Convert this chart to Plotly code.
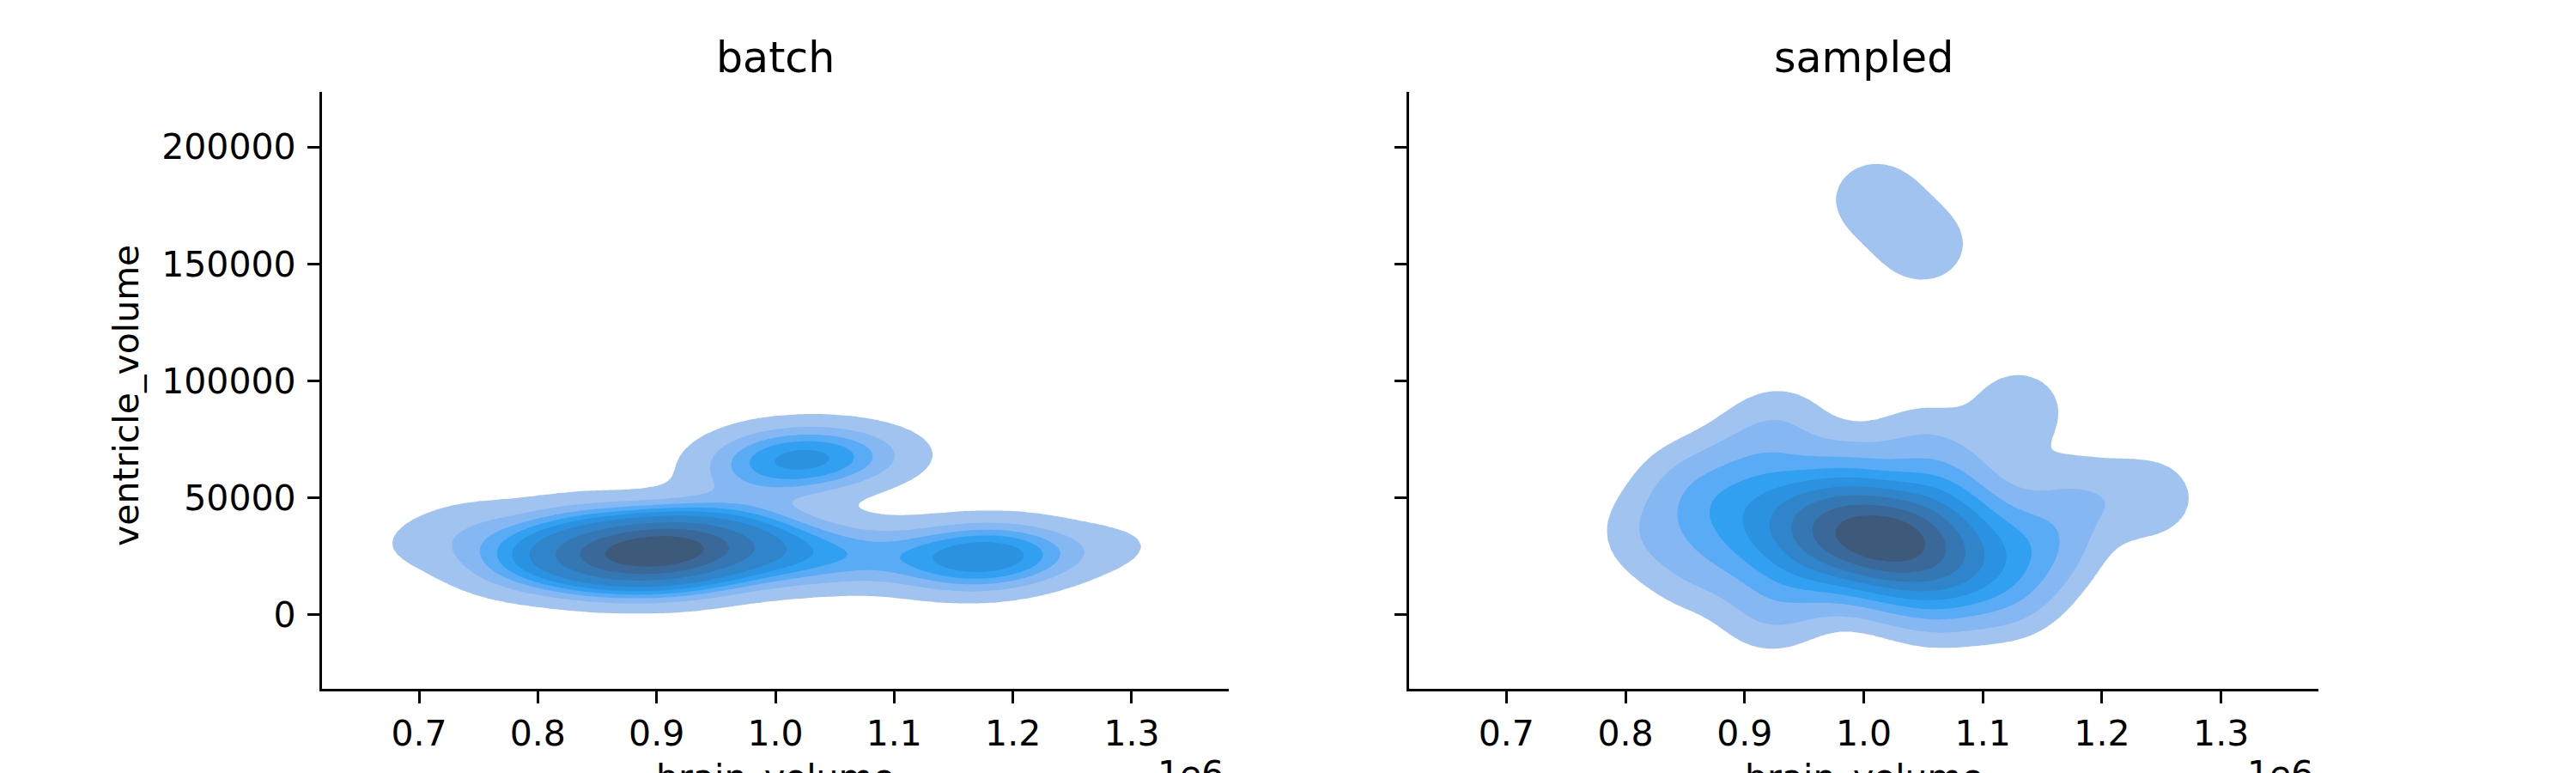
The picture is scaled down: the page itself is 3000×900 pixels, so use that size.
import numpy as np
import plotly.graph_objects as go
from plotly.subplots import make_subplots

# estimated sample points: brain_volume (1e6), ventricle_volume (1e3), count
batch_brain = [0.70, 0.74, 0.75, 0.77, 0.79, 0.80, 0.82, 0.83, 0.85, 0.86,
               0.87, 0.89, 0.90, 0.91, 0.92, 0.94, 0.95, 0.96, 0.98, 1.00,
               1.01, 1.04, 1.07, 0.84, 0.93,
               0.96, 0.99, 1.01, 1.03, 1.05, 1.07, 1.10, 0.97,
               1.10, 1.13, 1.15, 1.17, 1.19, 1.21, 1.24, 1.29]
batch_ventricle = [31, 40, 24, 34, 20, 29, 37, 24, 30, 18,
                   25, 29, 22, 33, 27, 30, 23, 36, 28, 32,
                   22, 27, 24, 42, 14,
                   66, 70, 63, 68, 65, 70, 66, 57,
                   27, 23, 28, 22, 27, 23, 26, 29]
batch_count = [1, 1, 1, 1, 2, 2, 1, 4, 4, 2,
               6, 6, 4, 4, 6, 4, 3, 2, 3, 2,
               2, 2, 2, 1, 1,
               1, 2, 2, 3, 2, 1, 1, 1,
               1, 2, 2, 3, 3, 2, 1, 1]

sampled_brain = [0.82, 0.85, 0.86, 0.88, 0.90, 0.91, 0.93, 0.94, 0.95, 0.97,
                 0.98, 0.99, 1.00, 1.02, 1.03, 1.05, 1.06, 1.07, 1.08, 1.10,
                 1.12, 1.13, 1.15, 1.18, 1.24, 1.05, 0.93, 0.92, 1.01, 1.05]
sampled_ventricle = [35, 55, 20, 45, 65, 30, 50, 15, 38, 26,
                     46, 60, 34, 22, 40, 30, 10, 52, 22, 36,
                     12, 88, 30, 50, 50, 72, 80, 2, 178, 158]
sampled_count = [1, 1, 1, 2, 1, 2, 2, 1, 3, 3,
                 3, 1, 5, 4, 4, 4, 2, 2, 3, 2,
                 2, 1, 2, 1, 1, 1, 1, 1, 1, 1]

x_ticks = [0.7, 0.8, 0.9, 1.0, 1.1, 1.2, 1.3]
y_ticks = [0, 50000, 100000, 150000, 200000]
panel_titles = ["batch", "sampled"]

# kernel scale per panel (x factor, y factor) applied to the data covariance
BW = [(0.3, 0.65), (0.35, 0.45)]
LEVELS = np.linspace(0.05, 1, 10)
COLORS = ["rgba(255,255,255,0)", "#a1c3ef", "#85b7f2", "#5aabf5", "#31a0f0",
          "#2a92e0", "#2f84ca", "#3577b2", "#3a6898", "#3d5a7b"]
FONT = "DejaVu Sans"
W, H, OFF = 3000, 900, 8  # page body offset of the plot div


def px(x):
    return (x - OFF) / W


def py(y):
    return 1 - (y - OFF) / H


X_DOMAINS = [[px(375), px(1431)], [px(1641), px(2700)]]
Y_DOMAIN = [py(802), py(107)]


def kde(xs, ys, ws, bw, gx, gy):
    pts = np.vstack([xs, ys]).astype(float)
    w = np.asarray(ws, float)
    w = w / w.sum()
    mean = (pts * w).sum(axis=1)
    d = pts - mean[:, None]
    cov = (d * w) @ d.T / (1 - (w ** 2).sum())
    s = np.diag(bw)
    kcov = s @ cov @ s
    inv = np.linalg.inv(kcov)
    norm = 1 / (2 * np.pi * np.sqrt(np.linalg.det(kcov)))
    XX, YY = np.meshgrid(gx, gy)
    dx = XX[..., None] - pts[0]
    dy = YY[..., None] - pts[1]
    q = inv[0, 0] * dx ** 2 + 2 * inv[0, 1] * dx * dy + inv[1, 1] * dy ** 2
    return (w * np.exp(-q / 2)).sum(axis=-1) * norm


def iso_levels(dens):
    vals = np.sort(dens.ravel())[::-1]
    cum = np.cumsum(vals) / vals.sum()
    idx = np.searchsorted(cum, 1 - LEVELS)
    return np.sort(np.take(vals, idx, mode="clip"))


gx = np.linspace(0.55, 1.45, 330)
gy = np.linspace(-45, 240, 330)

fig = make_subplots(rows=1, cols=2, shared_yaxes=True)

data = [(batch_brain, batch_ventricle, batch_count),
        (sampled_brain, sampled_ventricle, sampled_count)]
for i, (bx, vy, cnt) in enumerate(data):
    dens = kde(bx, vy, cnt, BW[i], gx, gy)
    lv = iso_levels(dens)
    z = np.interp(dens, np.concatenate([[0], lv]), np.arange(-1, 10))
    fig.add_trace(go.Contour(
        x=gx * 1e6, y=gy * 1e3, z=z,
        contours=dict(start=0, end=8, size=1, coloring="fill", showlines=False),
        colorscale=[[k / 9, c] for k, c in enumerate(COLORS)],
        line=dict(width=0),
        showscale=False, hoverinfo="skip",
    ), row=1, col=i + 1)

axis_style = dict(
    showline=True, linecolor="black", linewidth=3.2,
    ticks="outside", ticklen=14, tickwidth=3.2, tickcolor="black",
    tickfont=dict(family=FONT, size=41, color="black"),
    showgrid=False, zeroline=False, mirror=False, automargin=False,
)

fig.update_xaxes(axis_style, range=[618300, 1381700],
                 tickvals=[t * 1e6 for t in x_ticks],
                 ticktext=["%.1f" % t for t in x_ticks])
fig.update_yaxes(axis_style, range=[-31600, 223500], ticklabelstandoff=5,
                 tickvals=y_ticks, ticktext=[str(t) for t in y_ticks])
fig.update_layout(
    xaxis=dict(domain=X_DOMAINS[0]),
    xaxis2=dict(domain=X_DOMAINS[1]),
    yaxis=dict(domain=Y_DOMAIN),
    yaxis2=dict(domain=Y_DOMAIN, showticklabels=False),
)

for i, t in enumerate(panel_titles):
    dom = X_DOMAINS[i]
    fig.add_annotation(text=t, x=sum(dom) / 2, y=py(67), xref="paper",
                       yref="paper", xanchor="center", yanchor="middle",
                       showarrow=False,
                       font=dict(family=FONT, size=49, color="black"))
    fig.add_annotation(text="brain_volume", x=sum(dom) / 2, y=py(879),
                       xref="paper", yref="paper", xanchor="center",
                       yanchor="top", showarrow=False,
                       font=dict(family=FONT, size=41, color="black"))
    fig.add_annotation(text="1e6", x=dom[1] - 4 / W, y=py(875), xref="paper",
                       yref="paper", xanchor="right", yanchor="top",
                       showarrow=False,
                       font=dict(family=FONT, size=41, color="black"))

fig.add_annotation(text="ventricle_volume", x=px(147), y=py(461),
                   xref="paper", yref="paper", xanchor="center",
                   yanchor="middle", textangle=-90, showarrow=False,
                   font=dict(family=FONT, size=41, color="black"))

fig.update_layout(
    width=W, height=H,
    margin=dict(l=0, r=0, t=0, b=0),
    paper_bgcolor="white", plot_bgcolor="white",
    showlegend=False,
)

fig.write_html("out.html")
